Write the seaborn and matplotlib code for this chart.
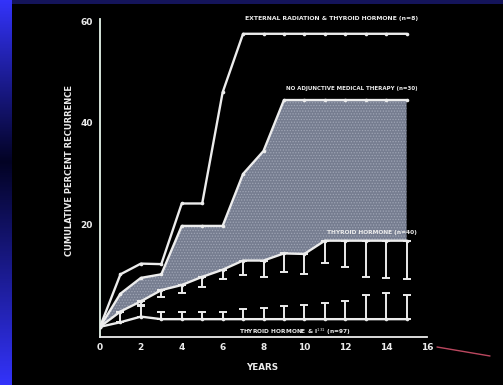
import numpy as np
import pandas as pd
import matplotlib
matplotlib.use("Agg")
import matplotlib.pyplot as plt
import seaborn as sns
from matplotlib.lines import Line2D

# values (cumulative percent recurrence by year)
years = list(range(0, 16))
external_rad = [0, 10.3, 12.4, 12.3, 24.2, 24.2, 46.0, 57.5, 57.5, 57.5, 57.5, 57.5, 57.5, 57.5, 57.5, 57.5]
no_adjunct = [0, 6.5, 9.6, 10.3, 19.8, 19.8, 19.8, 30.0, 34.5, 44.5, 44.5, 44.5, 44.5, 44.5, 44.5, 44.5]
thyroid = [0, 3.0, 5.0, 7.2, 8.2, 9.8, 11.2, 13.0, 13.0, 14.4, 14.3, 16.9, 16.9, 16.9, 16.9, 16.9]
thyroid_low = [0, 3.0, 4.0, 5.9, 6.7, 7.8, 9.4, 10.2, 9.8, 10.8, 10.4, 12.5, 11.8, 9.8, 9.6, 9.4]
thyroid_i131 = [0, 0.9, 2.0, 1.5, 1.5, 1.5, 1.5, 1.5, 1.5, 1.5, 1.5, 1.5, 1.5, 1.5, 1.5, 1.5]
i131_high = [0, 2.9, 4.3, 3.0, 3.0, 3.0, 3.0, 3.5, 3.7, 4.1, 4.3, 4.7, 5.1, 6.3, 6.7, 6.3]

x_ticks = [0, 2, 4, 6, 8, 10, 12, 14, 16]
y_ticks = [20, 40, 60]

labels = {
    "ext": "EXTERNAL RADIATION & THYROID HORMONE (n=8)",
    "none": "NO ADJUNCTIVE MEDICAL THERAPY (n=30)",
    "thy": "THYROID HORMONE (n=40)",
    "i131": "THYROID HORMONE & I$^{131}$ (n=97)",
}

sns.set_style("dark")
plt.rcParams['font.family'] = ['DejaVu Sans']

fig = plt.figure(figsize=(5.03, 3.85), dpi=100)
fig.patch.set_facecolor("black")

# slide frame: blue gradient strip on the left, navy band on top
strip = fig.add_axes([0, 0, 12 / 503, 1])
pos = np.linspace(0, 1, 200)
bright = np.array([0.20, 0.20, 0.98])
darkc = np.array([0.01, 0.01, 0.14])
t = np.where(pos < 0.42, pos / 0.42, (1 - pos) / 0.58)
grad = bright[None, :] * (1 - t[:, None]) + darkc[None, :] * t[:, None]
strip.imshow(grad[:, None, :], aspect="auto", extent=[0, 1, 0, 1], origin="upper")
strip.axis("off")
top = fig.add_axes([12 / 503, 1 - 4 / 385, 1, 4 / 385])
top.set_facecolor("#14145a")
top.set_xticks([])
top.set_yticks([])
for s in top.spines.values():
    s.set_visible(False)

ax = fig.add_axes([100 / 503, 1 - 337 / 385, 327 / 503, (337 - 18.5) / 385])
ax.set_facecolor("black")
ax.grid(False)

fg = "#ececec"

# shaded band between untreated and thyroid hormone curves
plt.rcParams['hatch.linewidth'] = 0.6
ax.fill_between(years, thyroid, no_adjunct, facecolor="#767d90", edgecolor="#9ea4b4",
                hatch="......", linewidth=0)

for vals in (external_rad, no_adjunct, thyroid, thyroid_i131):
    sns.lineplot(x=years, y=vals, ax=ax, color=fg, linewidth=1.7, marker="o",
                 markersize=2.6, markeredgewidth=0, zorder=4)

# one-sided error bars
thy = np.array(thyroid)
low = np.array(thyroid_low)
ax.errorbar(years[1:], thy[1:], yerr=[thy[1:] - low[1:], np.zeros(15)], fmt="none",
            ecolor=fg, elinewidth=1.4, capsize=3, capthick=1.4, zorder=4)
i1 = np.array(thyroid_i131)
hi = np.array(i131_high)
ax.errorbar(years[1:], i1[1:], yerr=[np.zeros(15), hi[1:] - i1[1:]], fmt="none",
            ecolor=fg, elinewidth=1.4, capsize=3, capthick=1.4, zorder=4)

tkw = dict(color=fg, fontsize=4.4, fontweight="bold", clip_on=False)
ax.text(7.1, 60.3, labels["ext"], **tkw)
ax.text(9.1, 46.5, labels["none"], fontsize=4.0, color=fg, fontweight="bold")
ax.text(11.1, 18.3, labels["thy"], fontsize=4.2, color=fg, fontweight="bold")
ax.text(6.8, -1.3, labels["i131"], fontsize=4.2, color=fg, fontweight="bold")

ax.set_xlim(0, 16)
ax.set_ylim(-2, 60.5)
ax.set_xticks(x_ticks)
ax.set_yticks(y_ticks)
ax.tick_params(axis="x", direction="in", length=2, colors=fg, labelsize=6.5, pad=4)
ax.tick_params(axis="y", direction="out", length=3, colors=fg, labelsize=6.5, pad=2)
for lab in ax.get_xticklabels() + ax.get_yticklabels():
    lab.set_fontweight("bold")
for side in ("top", "right"):
    ax.spines[side].set_visible(False)
ax.spines["left"].set_color("#e6f5ea")
ax.spines["bottom"].set_color(fg)
ax.spines["left"].set_linewidth(1.3)
ax.spines["bottom"].set_linewidth(1.3)

fig.text(70 / 503, 1 - 171 / 385, "CUMULATIVE PERCENT RECURRENCE", rotation=90,
         ha="center", va="center", color=fg, fontsize=6.0, fontweight="bold")
fig.text(262 / 503, 1 - 368 / 385, "YEARS", ha="center", va="center", color=fg,
         fontsize=6.3, fontweight="bold")

# pointer streak at the end of the time axis
fig.add_artist(Line2D([437 / 503, 490 / 503], [1 - 347 / 385, 1 - 356 / 385],
                      color="#d0506a", linewidth=1.0, alpha=0.9))

fig.savefig("out.png", dpi=100, facecolor=fig.get_facecolor())
